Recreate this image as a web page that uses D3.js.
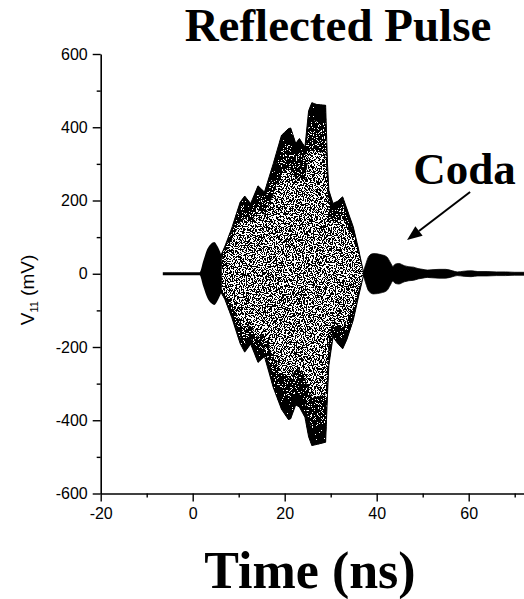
<!DOCTYPE html>
<html><head><meta charset="utf-8">
<script src="https://cdn.jsdelivr.net/npm/d3@7"></script>
<style>body{margin:0;background:#fff}svg{display:block}</style>
</head><body>
<script>
// ---- data ----
// precursor (flat baseline + first small burst)
const preT     = [-6.5, 1.5, 2.3, 3.2, 4.0, 4.7, 5.4, 6.2];
const preUpper = [4, 4, 35, 68, 82, 87, 75, 52];
const preLower = [-4, -4, -35, -66, -80, -85, -74, -52];
// main reflected burst
const mainT     = [6.2, 7.0, 8.5, 10.3, 11.3, 12.6, 14.2, 15.6, 17.5, 19.3, 20.8, 21.3, 22.4, 23.2, 24.4, 25.2, 25.9, 27.0, 28.9, 29.3, 29.6, 30.5, 31.5, 32.6, 33.5, 34.9, 36.0, 37.1];
const mainUpper = [52, 75, 125, 195, 212, 192, 240, 223, 300, 378, 396, 398, 356, 369, 346, 445, 467, 462, 460, 300, 228, 192, 198, 210, 178, 128, 70, 6];
const mainLower = [-52, -70, -120, -190, -214, -192, -242, -226, -310, -370, -398, -396, -358, -364, -392, -445, -469, -466, -460, -330, -250, -173, -190, -205, -180, -127, -65, -6];
// coda (ringing tail)
const codaT   = [37.1, 37.6, 38.3, 39.3, 41.0, 42.2, 43.0, 43.5, 44.0, 44.8, 46.0, 47.0, 48.0, 49.0, 50.0, 51.0, 52.0, 53.5, 55.0, 56.5, 57.5, 59.0, 60.5, 62.0, 64.0, 66.0, 68.0, 70.0, 72.5];
const codaAmp = [5, 25, 48, 55, 52, 46, 30, 20, 26, 28, 22, 19, 18, 14, 12, 10, 11, 12, 12, 8, 5, 7, 8, 6, 6, 5, 5, 4, 4];
// axes
const xMajor = [-20, 0, 20, 40, 60];
const xMinor = [-10, 10, 30, 50, 70];
const yMajor = [-600, -400, -200, 0, 200, 400, 600];
const yMinor = [-500, -300, -100, 100, 300, 500];
const titleText = "Reflected Pulse";
const xTitle = "Time (ns)";
const codaText = "Coda";
const codaLabelPos = [59.1, 245];
const arrowFrom = [60.3, 223];
const arrowTo = [46.6, 92];

// ---- drawing ----
const W = 524, H = 599;
const svg = d3.select("body").append("svg").attr("width", W).attr("height", H);
const x = d3.scaleLinear().domain([-20, 75]).range([100.7, 100.7 + 95 * 4.6]);
const y = d3.scaleLinear().domain([-600, 600]).range([493.5, 54]);

const defs = svg.append("defs");
function noise(id, seed, onFrom) {
  const tv = d3.range(20).map(i => (i >= onFrom ? 1 : 0)).join(" ");
  const f = defs.append("filter").attr("id", id)
    .attr("filterUnits", "userSpaceOnUse").attr("x", 0).attr("y", 0)
    .attr("width", W).attr("height", H)
    .attr("color-interpolation-filters", "sRGB");
  f.append("feTurbulence").attr("type", "fractalNoise")
    .attr("baseFrequency", 0.9).attr("numOctaves", 2).attr("seed", seed);
  f.append("feColorMatrix").attr("type", "matrix")
    .attr("values", "0 0 0 0 0  0 0 0 0 0  0 0 0 0 0  1 0 0 0 0");
  f.append("feComponentTransfer").append("feFuncA")
    .attr("type", "discrete").attr("tableValues", tv);
}
noise("sparse", 3, 10);
noise("medium", 5, 9);
noise("dense", 7, 7);

const mainData = mainT.map((t, i) => ({t, u: mainUpper[i], l: mainLower[i]}));
const areaMain = d3.area().x(d => x(d.t)).y0(d => y(d.l)).y1(d => y(d.u));

defs.append("clipPath").attr("id", "clipMain").append("path").attr("d", areaMain(mainData));
function band(id, k) {
  const bu = d3.area().x(d => x(d.t)).y0(d => y(d.u * k)).y1(d => y(d.u));
  const bl = d3.area().x(d => x(d.t)).y0(d => y(d.l)).y1(d => y(d.l * k));
  const cp = defs.append("clipPath").attr("id", id);
  cp.append("path").attr("d", bu(mainData));
  cp.append("path").attr("d", bl(mainData));
}
band("clipBandM", 0.72);
band("clipBandD", 0.9);

function fillLayer(clip, filter) {
  svg.append("g").attr("clip-path", `url(#${clip})`)
    .append("rect").attr("width", W).attr("height", H).attr("fill", "#000").attr("filter", `url(#${filter})`);
}
fillLayer("clipMain", "sparse");
fillLayer("clipBandM", "medium");
fillLayer("clipBandD", "dense");
svg.append("path").attr("d", areaMain(mainData)).attr("fill", "none")
  .attr("stroke", "#000").attr("stroke-width", 1);

// precursor
const preData = preT.map((t, i) => ({t, u: preUpper[i], l: preLower[i]}));
const areaGen = d3.area().x(d => x(d.t)).y0(d => y(d.l)).y1(d => y(d.u)).curve(d3.curveMonotoneX);
svg.append("path").attr("d", areaGen(preData)).attr("fill", "#000");

// coda
const codaData = codaT.map((t, i) => ({t, u: codaAmp[i], l: -codaAmp[i]}));
svg.append("path").attr("d", areaGen(codaData)).attr("fill", "#000")
  .attr("stroke", "#000").attr("stroke-width", 0.8);

// axes
const fontSans = "'Liberation Sans', Arial, sans-serif";
const x0 = y(-600);
const fmt = d => String(d);
const gx = svg.append("g").attr("transform", `translate(0,${x0})`);
gx.call(d3.axisBottom(x).tickValues(xMajor).tickSize(8).tickPadding(6).tickSizeOuter(0).tickFormat(fmt));
const gxm = svg.append("g").attr("transform", `translate(0,${x0})`);
gxm.call(d3.axisBottom(x).tickValues(xMinor).tickSize(4).tickSizeOuter(0).tickFormat(""));
gxm.select(".domain").remove();
const gy = svg.append("g").attr("transform", `translate(${x(-20)},0)`);
gy.call(d3.axisLeft(y).tickValues(yMajor).tickSize(8).tickPadding(5).tickSizeOuter(0).tickFormat(fmt));
const gym = svg.append("g").attr("transform", `translate(${x(-20)},0)`);
gym.call(d3.axisLeft(y).tickValues(yMinor).tickSize(4).tickSizeOuter(0).tickFormat(""));
gym.select(".domain").remove();
svg.selectAll(".domain").attr("stroke", "#000").attr("stroke-width", 1.6);
svg.selectAll(".tick line").attr("stroke", "#000").attr("stroke-width", 1.4);
svg.selectAll(".tick text").attr("font-family", fontSans).attr("font-size", 16).attr("fill", "#000");

// y label
const yl = svg.append("text").attr("transform", `translate(34,290) rotate(-90)`)
  .attr("text-anchor", "middle").attr("font-family", fontSans).attr("font-size", 19).attr("fill", "#000");
yl.append("tspan").text("V");
yl.append("tspan").attr("font-size", 11).attr("dy", 4).text("11");
yl.append("tspan").attr("dy", -4).text(" (mV)");

// titles
const serif = "'Liberation Serif', 'Times New Roman', serif";
svg.append("text").attr("x", 338).attr("y", 41).attr("text-anchor", "middle")
  .attr("font-family", serif).attr("font-weight", "bold").attr("font-size", 47).text(titleText);
svg.append("text").attr("x", 310).attr("y", 588).attr("text-anchor", "middle")
  .attr("font-family", serif).attr("font-weight", "bold").attr("font-size", 52).text(xTitle);
svg.append("text").attr("x", x(codaLabelPos[0])).attr("y", y(codaLabelPos[1])).attr("text-anchor", "middle")
  .attr("font-family", serif).attr("font-weight", "bold").attr("font-size", 45).text(codaText);

// arrow
const ax1 = x(arrowFrom[0]), ay1 = y(arrowFrom[1]), ax2 = x(arrowTo[0]), ay2 = y(arrowTo[1]);
const ang = Math.atan2(ay2 - ay1, ax2 - ax1), hl = 15, hw = 6;
const bx = ax2 - hl * Math.cos(ang), by = ay2 - hl * Math.sin(ang);
svg.append("line").attr("x1", ax1).attr("y1", ay1).attr("x2", bx).attr("y2", by)
  .attr("stroke", "#000").attr("stroke-width", 2);
svg.append("path").attr("d",
  `M${ax2},${ay2}L${bx + hw * Math.sin(ang)},${by - hw * Math.cos(ang)}L${bx - hw * Math.sin(ang)},${by + hw * Math.cos(ang)}Z`)
  .attr("fill", "#000");
</script>
</body></html>
